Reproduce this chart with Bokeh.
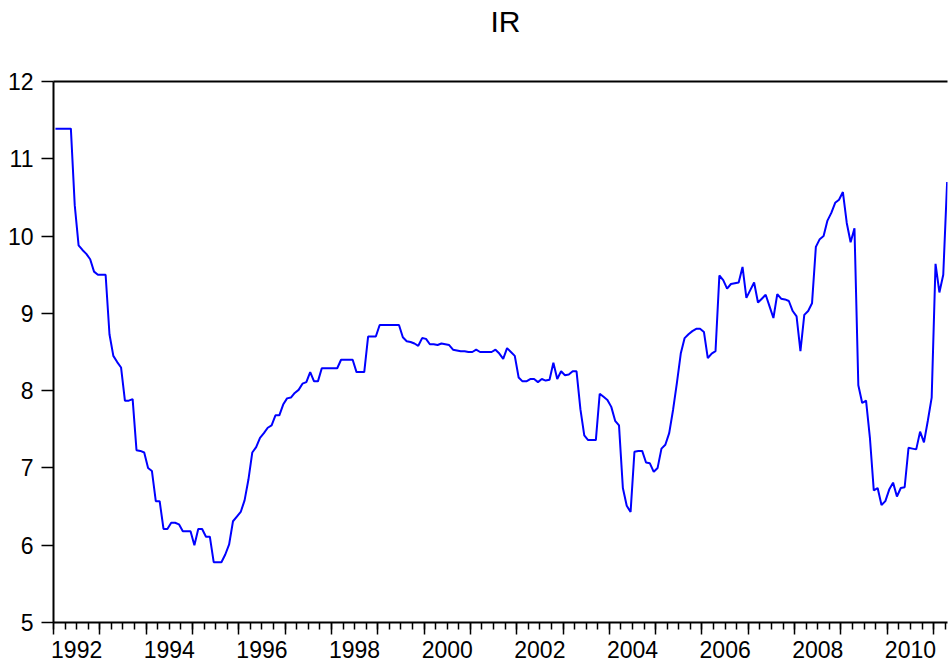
from bokeh.plotting import figure
from bokeh.models import LinearAxis, FixedTicker, Range1d, Title
from bokeh.embed import file_html
from bokeh.resources import INLINE

# Monthly IR values, 1992M1 .. 2011M4
ir_1992 = [11.39, 11.39, 11.39, 11.39, 11.39, 10.40, 9.88, 9.82, 9.77, 9.70, 9.54, 9.50]
ir_1993 = [9.50, 9.50, 8.73, 8.45, 8.37, 8.30, 7.87, 7.87, 7.89, 7.23, 7.22, 7.20]
ir_1994 = [7.00, 6.96, 6.57, 6.57, 6.21, 6.21, 6.29, 6.29, 6.27, 6.18, 6.18, 6.18]
ir_1995 = [6.00, 6.21, 6.21, 6.11, 6.11, 5.78, 5.78, 5.78, 5.88, 6.01, 6.31, 6.37]
ir_1996 = [6.43, 6.58, 6.85, 7.20, 7.27, 7.39, 7.45, 7.52, 7.55, 7.68, 7.68, 7.82]
ir_1997 = [7.90, 7.91, 7.97, 8.01, 8.09, 8.11, 8.24, 8.12, 8.12, 8.29, 8.29, 8.29]
ir_1998 = [8.29, 8.29, 8.40, 8.40, 8.40, 8.40, 8.24, 8.24, 8.24, 8.70, 8.70, 8.70]
ir_1999 = [8.85, 8.85, 8.85, 8.85, 8.85, 8.85, 8.69, 8.64, 8.63, 8.61, 8.58, 8.68]
ir_2000 = [8.67, 8.60, 8.60, 8.59, 8.61, 8.60, 8.59, 8.53, 8.52, 8.51, 8.51, 8.50]
ir_2001 = [8.50, 8.53, 8.50, 8.50, 8.50, 8.50, 8.53, 8.48, 8.41, 8.55, 8.50, 8.45]
ir_2002 = [8.17, 8.12, 8.12, 8.15, 8.15, 8.11, 8.15, 8.13, 8.14, 8.36, 8.15, 8.25]
ir_2003 = [8.20, 8.21, 8.25, 8.25, 7.76, 7.42, 7.36, 7.36, 7.36, 7.96, 7.92, 7.88]
ir_2004 = [7.79, 7.61, 7.55, 6.74, 6.51, 6.43, 7.21, 7.22, 7.22, 7.07, 7.06, 6.95]
ir_2005 = [7.00, 7.25, 7.30, 7.45, 7.75, 8.10, 8.48, 8.68, 8.73, 8.77, 8.80, 8.80]
ir_2006 = [8.76, 8.42, 8.48, 8.51, 9.49, 9.43, 9.32, 9.38, 9.39, 9.40, 9.60, 9.20]
ir_2007 = [9.30, 9.40, 9.14, 9.19, 9.24, 9.09, 8.94, 9.25, 9.19, 9.18, 9.16, 9.03]
ir_2008 = [8.96, 8.51, 8.98, 9.03, 9.13, 9.86, 9.96, 10.00, 10.20, 10.30, 10.43, 10.47]
ir_2009 = [10.57, 10.17, 9.92, 10.10, 8.07, 7.84, 7.87, 7.39, 6.71, 6.74, 6.52, 6.57]
ir_2010 = [6.72, 6.81, 6.63, 6.74, 6.75, 7.26, 7.25, 7.24, 7.47, 7.33, 7.61, 7.91]
ir_2011 = [9.64, 9.27, 9.50, 10.70]

title_text = "IR"
start_year = 1992
year_labels = ["1992", "1994", "1996", "1998", "2000", "2002", "2004", "2006", "2008", "2010"]
y_ticks = [5, 6, 7, 8, 9, 10, 11, 12]

series = (ir_1992 + ir_1993 + ir_1994 + ir_1995 + ir_1996 + ir_1997 + ir_1998 +
          ir_1999 + ir_2000 + ir_2001 + ir_2002 + ir_2003 + ir_2004 + ir_2005 +
          ir_2006 + ir_2007 + ir_2008 + ir_2009 + ir_2010 + ir_2011)
xs = [start_year + (i + 0.5) / 12.0 for i in range(len(series))]

FONT = "Liberation Sans"
X0, X1 = 1992, 2011.3
Y0, Y1 = 5, 12

p = figure(width=948, height=666, output_backend="svg", toolbar_location=None,
           title=None,
           x_range=Range1d(X0, X1), y_range=Range1d(Y0, Y1),
           x_axis_type=None, min_border_left=53, min_border_right=1,
           min_border_top=81, min_border_bottom=44)
p.outline_line_color = None
p.background_fill_color = "white"
p.border_fill_color = "white"
p.ygrid.grid_line_color = None

# spacer axis closest to the frame: its line is the frame's top border,
# its (blank) axis label reserves the gap between the frame and the title
spacer = LinearAxis(ticker=FixedTicker(ticks=[], minor_ticks=[]),
                    axis_line_color="black", axis_line_width=2,
                    major_tick_out=0, major_tick_in=0, minor_tick_out=0, minor_tick_in=0,
                    major_tick_line_color=None, minor_tick_line_color=None,
                    major_label_standoff=0, major_label_text_font_size="0px",
                    axis_label="\u00a0", axis_label_standoff=0,
                    axis_label_text_font_size="36px", axis_label_text_color="white")
p.add_layout(spacer, "above")

# title, stacked above the spacer
p.add_layout(Title(text=title_text, align="left", offset=437, standoff=0,
                   text_font=FONT, text_font_size="30px", text_font_style="normal",
                   text_color="black"), "above")

# y axis
ya = p.yaxis[0]
ya.ticker = FixedTicker(ticks=y_ticks, minor_ticks=[])
ya.major_tick_out = 12
ya.major_tick_in = 0
ya.major_tick_line_width = 1.5
ya.axis_line_width = 2
ya.major_label_text_font = FONT
ya.major_label_text_font_size = "23px"
ya.major_label_standoff = 8
ya.major_label_text_color = "black"

# x axis: tick marks (year starts + quarters)
years = list(range(1992, 2012))
quarters = [y + q / 4.0 for y in years for q in range(4)]
ax_ticks = LinearAxis(ticker=FixedTicker(ticks=years, minor_ticks=quarters),
                      major_tick_out=12, major_tick_in=0, minor_tick_out=7, minor_tick_in=0,
                      major_tick_line_width=1.5, minor_tick_line_width=1.5,
                      axis_line_width=2, major_label_text_font_size="0px",
                      major_label_standoff=0,
                      major_label_overrides={y: "" for y in years})
p.add_layout(ax_ticks, "below")

# x axis: year labels at mid-year
label_pos = [int(s) + 0.5 for s in year_labels]
ax_labels = LinearAxis(ticker=FixedTicker(ticks=label_pos, minor_ticks=[]),
                       axis_line_color=None, major_tick_line_color=None,
                       minor_tick_line_color=None, major_label_standoff=0,
                       major_label_text_font=FONT, major_label_text_font_size="23px",
                       major_label_text_color="black",
                       major_label_overrides={pos: s for pos, s in zip(label_pos, year_labels)})
p.add_layout(ax_labels, "below")

p.line(xs, series, line_color="#0000ff", line_width=2)

open("out.html", "w").write(file_html(p, INLINE))
